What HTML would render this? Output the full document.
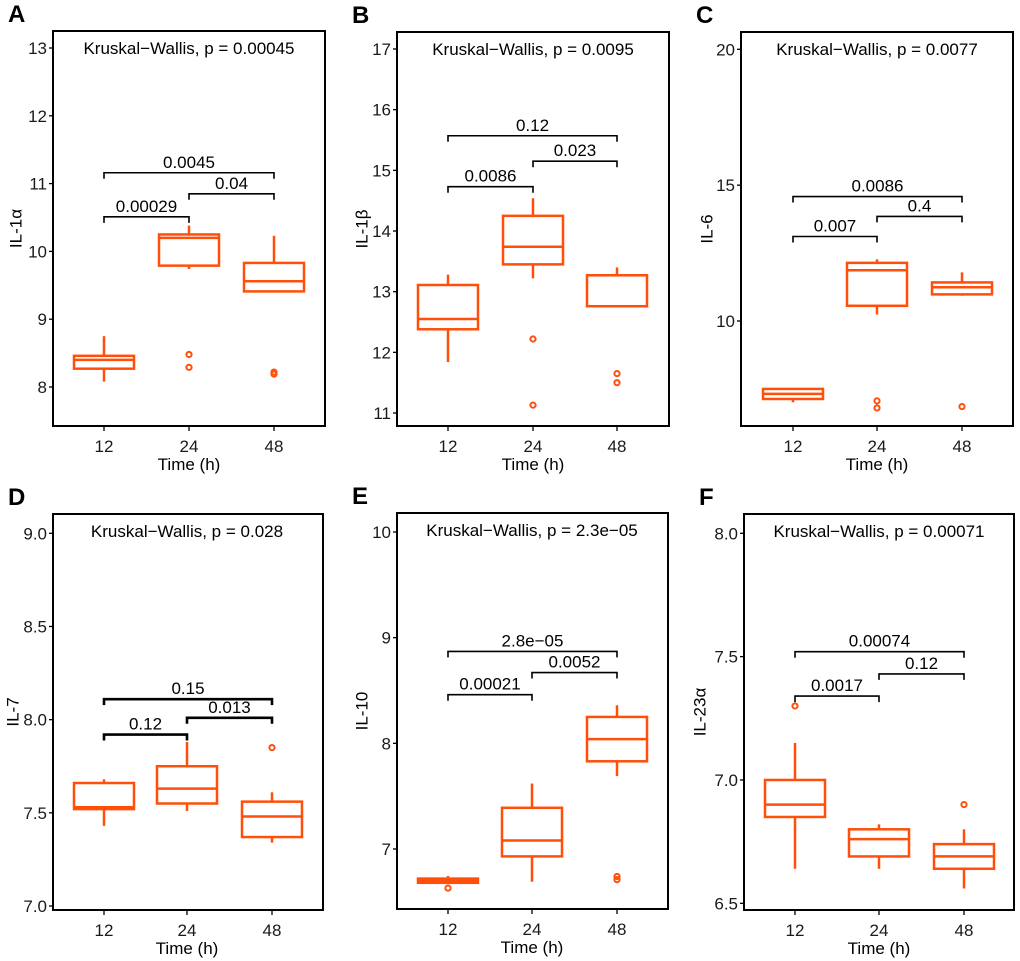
<!DOCTYPE html>
<html><head><meta charset="utf-8"><style>
html,body{margin:0;padding:0;background:#fff;}
svg{display:block;font-family:"Liberation Sans",Arial,sans-serif;}
</style></head><body>
<svg id="fig" width="1020" height="961" viewBox="0 0 1020 961" xmlns="http://www.w3.org/2000/svg"></svg>
<script>
const categories = ["12","24","48"];

const aLow=[8.08,9.74,9.41], aQ1=[8.27,9.79,9.41], aMed=[8.40,10.20,9.56], aQ3=[8.46,10.25,9.83], aHigh=[8.75,10.38,10.23];
const aOut=[[],[8.48,8.29],[8.22,8.19]];
const aTicks=[8,9,10,11,12,13];
const aBrackets=[[0,2,11.16,"0.0045"],[1,2,10.85,"0.04"],[0,1,10.51,"0.00029"]];

const bLow=[11.84,13.22,12.76], bQ1=[12.38,13.45,12.76], bMed=[12.55,13.74,13.27], bQ3=[13.11,14.25,13.27], bHigh=[13.28,14.54,13.40];
const bOut=[[],[12.22,11.13],[11.65,11.5]];
const bTicks=[11,12,13,14,15,16,17];
const bBrackets=[[0,2,15.57,"0.12"],[1,2,15.15,"0.023"],[0,1,14.73,"0.0086"]];

const cLow=[7.01,10.24,10.93], cQ1=[7.13,10.56,10.98], cMed=[7.32,11.87,11.24], cQ3=[7.50,12.14,11.42], cHigh=[7.53,12.27,11.79];
const cOut=[[],[7.06,6.8],[6.85]];
const cTicks=[10,15,20];
const cBrackets=[[0,2,14.58,"0.0086"],[1,2,13.85,"0.4"],[0,1,13.11,"0.007"]];

const dLow=[7.43,7.51,7.34], dQ1=[7.52,7.55,7.37], dMed=[7.53,7.63,7.48], dQ3=[7.66,7.75,7.56], dHigh=[7.68,7.88,7.61];
const dOut=[[],[],[7.85]];
const dTicks=["7.0","7.5","8.0","8.5","9.0"];
const dBrackets=[[0,2,8.11,"0.15"],[1,2,8.01,"0.013"],[0,1,7.92,"0.12"]];

const eLow=[6.68,6.69,7.69], eQ1=[6.68,6.93,7.83], eMed=[6.70,7.08,8.04], eQ3=[6.72,7.39,8.25], eHigh=[6.745,7.62,8.36];
const eOut=[[6.63],[],[6.74,6.71]];
const eTicks=[7,8,9,10];
const eBrackets=[[0,2,8.87,"2.8e\u221205"],[1,2,8.67,"0.0052"],[0,1,8.46,"0.00021"]];

const fLow=[6.64,6.64,6.56], fQ1=[6.85,6.69,6.64], fMed=[6.90,6.76,6.69], fQ3=[7.00,6.80,6.74], fHigh=[7.15,6.82,6.80];
const fOut=[[7.30],[],[6.90]];
const fTicks=["6.5","7.0","7.5","8.0"];
const fBrackets=[[0,2,7.52,"0.00074"],[1,2,7.43,"0.12"],[0,1,7.34,"0.0017"]];

const NS="http://www.w3.org/2000/svg";
const svg=document.getElementById('fig');
const ORANGE="#FF4F0A";
function el(tag,attrs,parent){const e=document.createElementNS(NS,tag);for(const k in attrs)e.setAttribute(k,attrs[k]);(parent||svg).appendChild(e);return e;}

const panels=[
 {id:"a",letter:"A",title:"IL-1\u03b1",p:"0.00045",x0:53,x1:325,y0:31,y1:426,tv0:8,ty0:387,tv1:13,ty1:48,cx:[104,189,274],ytx:17,lo:aLow,q1:aQ1,md:aMed,q3:aQ3,hi:aHigh,out:aOut,ticks:aTicks,br:aBrackets,bw:1.6},
 {id:"b",letter:"B",title:"IL-1\u03b2",p:"0.0095",x0:397,x1:669,y0:32,y1:426,tv0:11,ty0:413,tv1:17,ty1:49,cx:[448,533,617],ytx:363,lo:bLow,q1:bQ1,md:bMed,q3:bQ3,hi:bHigh,out:bOut,ticks:bTicks,br:bBrackets,bw:1.6},
 {id:"c",letter:"C",title:"IL-6",p:"0.0077",x0:741,x1:1013,y0:32,y1:426,tv0:10,ty0:321,tv1:20,ty1:49.3,cx:[793,877,962],ytx:708,lo:cLow,q1:cQ1,md:cMed,q3:cQ3,hi:cHigh,out:cOut,ticks:cTicks,br:cBrackets,bw:1.6},
 {id:"d",letter:"D",title:"IL-7",p:"0.028",x0:53,x1:323,y0:514,y1:910,tv0:7,ty0:906,tv1:9,ty1:533.3,cx:[104,187,272],ytx:14,lo:dLow,q1:dQ1,md:dMed,q3:dQ3,hi:dHigh,out:dOut,ticks:dTicks,br:dBrackets,bw:2.6},
 {id:"e",letter:"E",title:"IL-10",p:"2.3e\u221205",x0:397,x1:668,y0:513,y1:909,tv0:7,ty0:849,tv1:10,ty1:532,cx:[448,532,617],ytx:363,lo:eLow,q1:eQ1,md:eMed,q3:eQ3,hi:eHigh,out:eOut,ticks:eTicks,br:eBrackets,bw:1.6},
 {id:"f",letter:"F",title:"IL-23\u03b1",p:"0.00071",x0:744,x1:1014,y0:514,y1:910,tv0:6.5,ty0:903.3,tv1:8,ty1:533.3,cx:[795,879,964],ytx:701,lo:fLow,q1:fQ1,md:fMed,q3:fQ3,hi:fHigh,out:fOut,ticks:fTicks,br:fBrackets,bw:1.6}
];

panels.forEach(P=>{
  const g=el('g',{});
  
  
  const y=v=>P.ty0+(parseFloat(v)-P.tv0)*(P.ty1-P.ty0)/(P.tv1-P.tv0);
  const lt=el('text',{x:P.x0-45,y:P.y0-9,'font-size':24,'font-weight':'bold',fill:'#000'},g);
  lt.textContent=P.letter;
  
  
  // frame
  const fr=el('rect',{x:P.x0,y:P.y0,width:P.x1-P.x0,height:P.y1-P.y0,fill:'none',stroke:'#000','stroke-width':2},g);
  
  
  // y ticks
  P.ticks.forEach(t=>{
    const yy=y(t);
    el('line',{x1:P.x0-4,x2:P.x0,y1:yy,y2:yy,stroke:'#000','stroke-width':1.3},g);
    const tx=el('text',{x:P.x0-6,y:yy+6,'font-size':17,'text-anchor':'end',fill:'#1a1a1a'},g);
    tx.textContent=String(t);
    
    
  });
  // x ticks
  categories.forEach((c,i)=>{
    el('line',{x1:P.cx[i],x2:P.cx[i],y1:P.y1,y2:P.y1+5,stroke:'#000','stroke-width':1.3},g);
    const tx=el('text',{x:P.cx[i],y:P.y1+26,'font-size':17,'text-anchor':'middle',fill:'#1a1a1a'},g);
    tx.textContent=c;
    
    
  });
  const xt=el('text',{x:P.cx[1],y:P.y1+44,'font-size':17,'text-anchor':'middle',fill:'#000'},g);
  xt.textContent="Time (h)";
  
  
  const ymid=(P.y0+P.y1)/2;
  const yt=el('text',{x:P.ytx,y:ymid,'font-size':17,'text-anchor':'middle',fill:'#000',transform:'rotate(-90 '+P.ytx+' '+ymid+')','dominant-baseline':'middle'},g);
  yt.textContent=P.title;
  
  
  const kt=el('text',{x:P.cx[1],y:P.y0+23,'font-size':17,'text-anchor':'middle',fill:'#000'},g);
  kt.textContent="Kruskal\u2212Wallis, p = "+P.p;
  
  
  // boxes
  categories.forEach((c,i)=>{
    const bx=el('g',{},g);
    
    
    const cx=P.cx[i], hw=30;
    el('line',{x1:cx,x2:cx,y1:y(P.hi[i]),y2:y(P.q3[i]),stroke:ORANGE,'stroke-width':2.5},bx);
    el('line',{x1:cx,x2:cx,y1:y(P.q1[i]),y2:y(P.lo[i]),stroke:ORANGE,'stroke-width':2.5},bx);
    const top=y(P.q3[i]), bot=y(P.q1[i]);
    el('rect',{x:cx-hw,y:top,width:2*hw,height:Math.max(bot-top,0.5),fill:'#fff',stroke:ORANGE,'stroke-width':2.5},bx);
    el('line',{x1:cx-hw,x2:cx+hw,y1:y(P.md[i]),y2:y(P.md[i]),stroke:ORANGE,'stroke-width':2.5},bx);
    P.out[i].forEach(o=>{
      const ci=el('circle',{cx:cx,cy:y(o),r:2.6,fill:'none',stroke:ORANGE,'stroke-width':2},bx);
      
      
    });
  });
  // brackets
  P.br.forEach(b=>{
    const bg=el('g',{},g);
    
    
    const xa=P.cx[b[0]], xb=P.cx[b[1]], yy=y(b[2]);
    el('polyline',{points:xa+','+(yy+6)+' '+xa+','+yy+' '+xb+','+yy+' '+xb+','+(yy+6),fill:'none',stroke:'#000','stroke-width':P.bw},bg);
    const t=el('text',{x:(xa+xb)/2,y:yy-5,'font-size':17,'text-anchor':'middle',fill:'#000'},bg);
    t.textContent=b[3];
  });
});
</script>
</body></html>
